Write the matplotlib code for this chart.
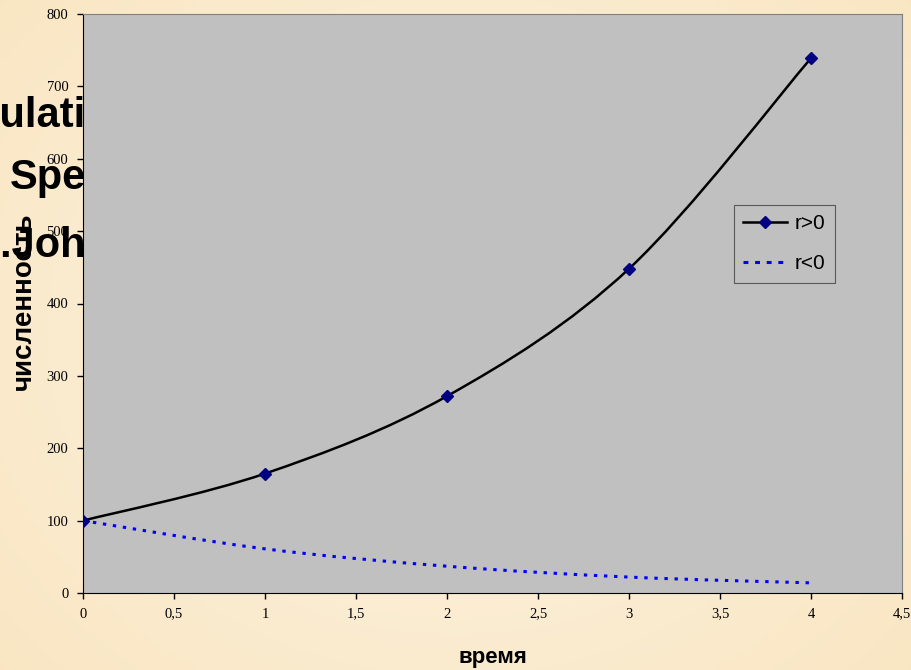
import numpy as np
import matplotlib.pyplot as plt
from matplotlib.path import Path
from matplotlib.patches import PathPatch
from matplotlib.lines import Line2D

# данные
t = [0, 1, 2, 3, 4]
r_pos = [100, 165, 272, 448, 739]
r_neg = [100, 61, 37, 22, 14]
x_ticks = [0, 0.5, 1, 1.5, 2, 2.5, 3, 3.5, 4, 4.5]
y_ticks = [0, 100, 200, 300, 400, 500, 600, 700, 800]
title_lines = ["Population", "Species", "D.L.Johnson"]
title_prefix = ["Pop", "", "D.L"]


def smooth_path(xs, ys):
    # сглаженная линия как в Excel: кривые Безье через точки
    pts = np.column_stack([xs, ys]).astype(float)
    verts = [pts[0]]
    codes = [Path.MOVETO]
    n = len(pts)
    for i in range(n - 1):
        p0 = pts[i - 1] if i > 0 else pts[i]
        p1 = pts[i]
        p2 = pts[i + 1]
        p3 = pts[i + 2] if i + 2 < n else pts[i + 1]
        verts += [p1 + (p2 - p0) / 6, p2 - (p3 - p1) / 6, p2]
        codes += [Path.CURVE4] * 3
    return Path(verts, codes)


W, H = 912, 670
fig = plt.figure(figsize=(W / 100, H / 100), dpi=100)

# фон слайда
bg = fig.add_axes([0, 0, 1, 1], zorder=-2)
yy, xx = np.mgrid[0:1:200j, 0:1:270j]
d = np.clip(np.sqrt(((xx - 0.5) / 0.75) ** 2 + ((yy - 0.5) / 0.85) ** 2), 0, 1)
c_in = np.array([253, 245, 230]) / 255
c_out = np.array([249, 228, 190]) / 255
img = c_in[None, None, :] * (1 - d[..., None]) + c_out[None, None, :] * d[..., None]
bg.imshow(img, aspect='auto', extent=[0, 1, 0, 1])
bg.axis('off')

# заголовок слайда (закрыт диаграммой)
renderer = fig.canvas.get_renderer()
title_font = dict(family='Liberation Sans', weight='bold', size=30, color='black')
baselines = [127, 189, 257]
starts = [0, 10, 0]
for line, pre, yb, xs in zip(title_lines, title_prefix, baselines, starts):
    shift = 0
    if pre:
        tmp = fig.text(0, 0, pre, **title_font)
        shift = tmp.get_window_extent(renderer).width
        tmp.remove()
    fig.text((xs - shift) / W, 1 - yb / H, line, va='baseline', ha='left',
             zorder=-1, **title_font)

ax = fig.add_axes([83 / W, 1 - 593 / H, (902 - 83) / W, (593 - 14) / H], zorder=1)
ax.set_facecolor('#c0c0c0')

ax.add_patch(PathPatch(smooth_path(t, r_pos), fill=False, edgecolor='black', lw=1.8, zorder=3))
ax.plot(t, r_pos, linestyle='none', marker='D', markersize=6.5, color='#000080', zorder=4)
ax.add_patch(PathPatch(smooth_path(t, r_neg), fill=False, edgecolor='#0000ff', lw=2.2,
                       linestyle=(0, (1.1, 2.2)), zorder=3))

ax.set_xlim(0, 4.5)
ax.set_ylim(0, 800)
ax.set_xticks(x_ticks)
ax.set_xticklabels([f"{v:g}".replace('.', ',') for v in x_ticks])
ax.set_yticks(y_ticks)
ax.tick_params(direction='out', length=4.5, width=1, colors='black', labelsize=10.5, pad=6)
for lab in ax.get_xticklabels() + ax.get_yticklabels():
    lab.set_family('Liberation Serif')

ax.spines['left'].set_color('black')
ax.spines['bottom'].set_color('black')
ax.spines['top'].set_color('#808080')
ax.spines['right'].set_color('#808080')

ax.set_xlabel('время', fontsize=16, fontweight='bold', family='Liberation Sans', labelpad=19)
ax.set_ylabel('численность', fontsize=20, fontweight='bold', family='Liberation Sans')
ax.yaxis.set_label_coords(-46 / (902 - 83), (593 - 301) / (593 - 14))

handles = [Line2D([], [], color='black', lw=1.8, marker='D', markersize=6.5,
                  markerfacecolor='#000080', markeredgecolor='#000080'),
           Line2D([], [], color='#0000ff', lw=2.2, linestyle=(0, (1.6, 2.2)))]
leg = ax.legend(handles, ['r>0', 'r<0'], loc='upper left',
                bbox_to_anchor=((734 - 83) / (902 - 83), (593 - 205) / (593 - 14)),
                frameon=True, fancybox=False, facecolor='#c0c0c0', edgecolor='#404040',
                prop=dict(family='Liberation Sans', size=15), handlelength=2.1,
                handletextpad=0.35, borderpad=0.45, labelspacing=1.0, borderaxespad=0)
leg.get_frame().set_linewidth(0.8)

fig.savefig('out.png', dpi=100)
